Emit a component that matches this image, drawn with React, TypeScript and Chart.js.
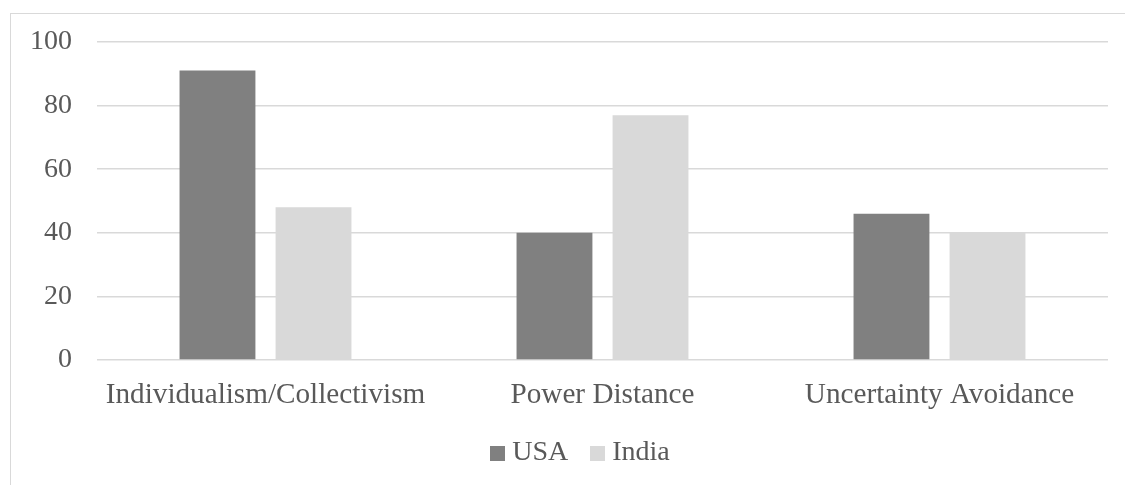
import React, { useEffect, useRef } from "react";
import { Chart, registerables } from "chart.js";

Chart.register(...registerables);

const categories = ["Individualism/Collectivism", "Power Distance", "Uncertainty Avoidance"];
const usaValues = [91, 40, 46];
const indiaValues = [48, 77, 40];
const yTicks = [0, 20, 40, 60, 80, 100];

const FONT = "'Liberation Serif', 'Times New Roman', serif";
const TEXT = "#595959";
const GRID = "#d9d9d9";
const USA_COLOR = "#808080";
const INDIA_COLOR = "#d9d9d9";

// Small square swatch used as the legend marker
function swatch(color: string, size: number): HTMLCanvasElement {
  const c = document.createElement("canvas");
  c.width = size;
  c.height = size;
  const ctx = c.getContext("2d");
  if (ctx) {
    ctx.fillStyle = color;
    ctx.fillRect(0, 0, size, size);
  }
  return c;
}

// The legend is centred on the full chart frame, which is wider than the plot's right edge
const legendOffset = {
  id: "legendOffset",
  afterLayout(chart: any) {
    if (chart.legend) chart.legend.left += 48;
  },
};

export default function App() {
  const canvasRef = useRef<HTMLCanvasElement | null>(null);

  useEffect(() => {
    const canvas = canvasRef.current;
    if (!canvas) return;
    const chart = new Chart(canvas, {
      type: "bar",
      data: {
        labels: categories,
        datasets: [
          {
            label: "USA",
            data: usaValues,
            backgroundColor: USA_COLOR,
            borderWidth: 0,
            pointStyle: swatch(USA_COLOR, 15),
          } as any,
          {
            label: "India",
            data: indiaValues,
            backgroundColor: INDIA_COLOR,
            borderWidth: 0,
            pointStyle: swatch(INDIA_COLOR, 15),
          } as any,
        ],
      },
      options: {
        animation: false,
        responsive: false,
        maintainAspectRatio: false,
        devicePixelRatio: 1,
        datasets: { bar: { categoryPercentage: 0.57, barPercentage: 0.79 } },
        layout: { padding: { top: 28, right: 39, bottom: 0, left: 0 } },
        plugins: {
          tooltip: { enabled: false },
          legend: {
            position: "bottom",
            labels: {
              usePointStyle: true,
              boxWidth: 1,
              boxHeight: 15,
              padding: 29,
              color: TEXT,
              font: { family: FONT, size: 28 },
            },
          },
        },
        scales: {
          x: {
            grid: { display: false, drawTicks: false },
            border: { display: false },
            ticks: { color: TEXT, font: { family: FONT, size: 29.2 }, padding: 18, maxRotation: 0 },
            afterFit: (scale: any) => {
              scale.height = 50;
            },
          },
          y: {
            min: 0,
            max: 100,
            afterBuildTicks: (scale: any) => {
              scale.ticks = yTicks.map((v) => ({ value: v }));
            },
            grid: { color: GRID, lineWidth: 1.5, drawTicks: false },
            border: { display: false },
            ticks: { color: TEXT, font: { family: FONT, size: 28 }, padding: 25 },
            afterFit: (scale: any) => {
              scale.width = 86;
              scale.paddingTop = 0;
              scale.paddingBottom = 0;
            },
          },
        },
      },
      plugins: [legendOffset],
    });
    return () => chart.destroy();
  }, []);

  return (
    <div
      style={{
        position: "fixed",
        left: 10,
        top: 13,
        width: 1115,
        height: 472,
        overflow: "hidden",
        borderTop: `1px solid ${GRID}`,
        borderLeft: `1px solid ${GRID}`,
        background: "#ffffff",
      }}
    >
      <canvas ref={canvasRef} width={1136} height={463} style={{ display: "block", width: 1136, height: 463 }} />
    </div>
  );
}
